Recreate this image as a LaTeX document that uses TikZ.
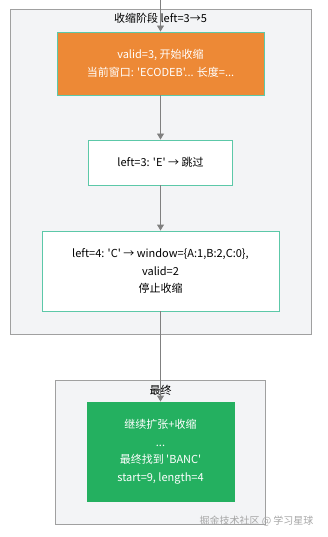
\documentclass[tikz,border=0pt]{standalone}
\usepackage{fontspec}
\setmainfont{Noto Sans CJK SC}[Ligatures=TeXOff]
\usepackage{tikz}
\usetikzlibrary{arrows.meta, positioning}
\definecolor{clusterfill}{RGB}{243,244,246}
\definecolor{clusterline}{RGB}{160,160,160}
\definecolor{boxline}{RGB}{92,200,168}
\definecolor{arrowcol}{RGB}{128,128,128}
\definecolor{shrinkcol}{RGB}{237,137,54}
\definecolor{finalcol}{RGB}{36,176,96}

\tikzset{
  cluster/.style={draw=clusterline, fill=clusterfill, line width=0.8pt},
  stepbox/.style={draw=boxline, line width=0.9pt, fill=white, align=center,
    font=\fontsize{11}{17.5}\selectfont, inner sep=0pt},
  flow/.style={draw=arrowcol, line width=0.9pt, -{Triangle[length=6pt, width=7pt]}},
}

\begin{document}
\begin{tikzpicture}[x=1pt, y=-1pt]
  \useasboundingbox (0,0) rectangle (328,537);

  % Clusters
  \draw[cluster] (10,9) rectangle (311,334);
  \node[font=\fontsize{11}{12}\selectfont] (shrinktitle) at (160.5,18) {收缩阶段 left=3→5};
  \draw[cluster] (55,380) rectangle (265,524);
  \node[font=\fontsize{11}{12}\selectfont] (finaltitle) at (160.5,390) {最终};

  % Steps
  \coordinate (entry) at (160.5,0);
  \node[stepbox, fill=shrinkcol, text=white, minimum width=207pt, minimum height=63pt]
    (start) at (160.5,63.5) {valid=3, 开始收缩\\当前窗口: 'ECODEB'... 长度=...};
  \node[stepbox, minimum width=144pt, minimum height=45pt]
    (skip) at (160.5,162.5) {left=3: 'E' → 跳过};
  \node[stepbox, minimum width=237pt, minimum height=80pt]
    (stop) at (160.5,271) {left=4: 'C' → window=\{A:1,B:2,C:0\},\\valid=2\\停止收缩};
  \node[stepbox, fill=finalcol, draw=finalcol, text=white, minimum width=147pt, minimum height=99pt]
    (result) at (160.5,451.5) {继续扩张+收缩\\...\\最终找到 'BANC'\\start=9, length=4};

  % Connectors
  \draw[flow] (entry) -- (start);
  \draw[flow] (start) -- (skip);
  \draw[flow] (skip) -- (stop);
  \draw[flow] (stop) -- (result);

  % Watermark
  \node[text=gray!70, font=\fontsize{10}{11}\selectfont, anchor=east] (mark) at (317,521) {掘金技术社区 @ 学习星球};
\end{tikzpicture}
\end{document}
